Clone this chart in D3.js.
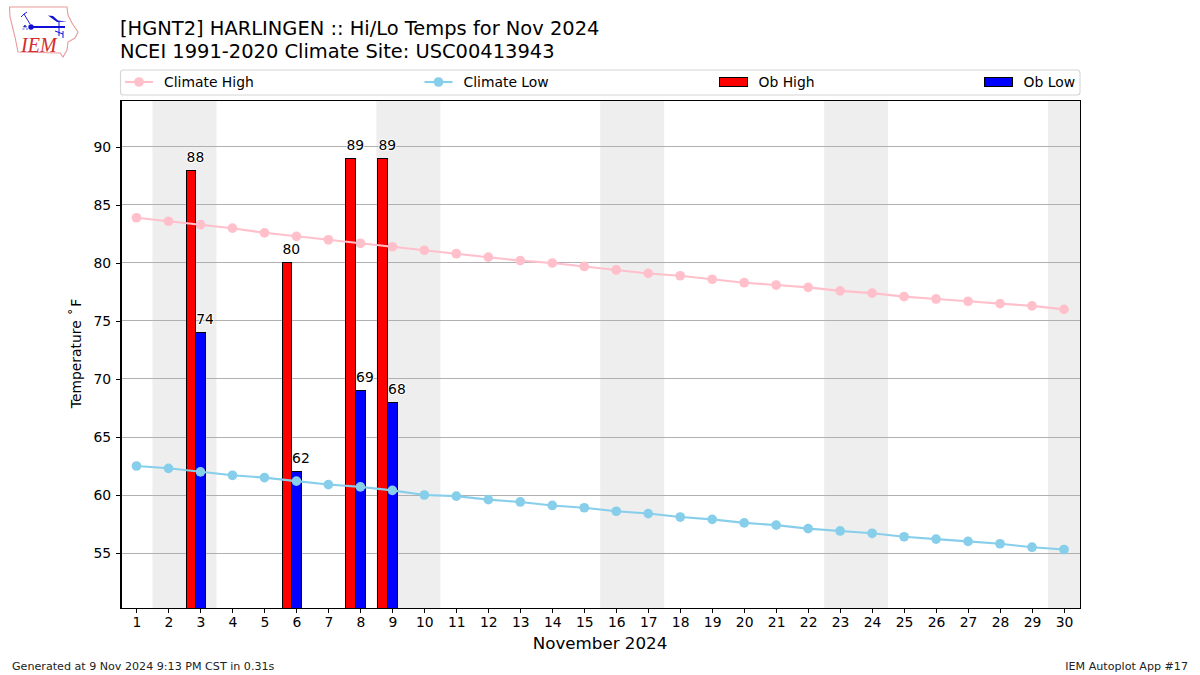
<!DOCTYPE html>
<html lang="en">
<head>
<meta charset="UTF-8">
<title>HGNT2 Hi/Lo Temps</title>
<style>
  html,body{margin:0;background:#fff}
  svg{display:block}
  text{font-family:'DejaVu Sans',sans-serif;fill:#000}
  .tick text{font-size:13.9px}
  .tick line,.domain{shape-rendering:crispEdges}
  .grid line{stroke:#b0b0b0;stroke-width:1;shape-rendering:crispEdges}
  .label{font-size:13.9px}
  .foot{font-size:11.12px;fill:#222}
  .bar{shape-rendering:crispEdges}
</style>
</head>
<body>
<div id="chart"></div>
<script src="https://cdn.jsdelivr.net/npm/d3@7"></script>
<script>
const days=d3.range(1,31);
const climateHigh=[83.9,83.6,83.3,83.0,82.6,82.3,82.0,81.7,81.4,81.1,80.8,80.5,80.2,80.0,79.7,
                   79.4,79.1,78.9,78.6,78.3,78.1,77.9,77.6,77.4,77.1,76.9,76.7,76.5,76.3,76.0];
const climateLow=[62.5,62.3,62.0,61.7,61.5,61.2,60.9,60.7,60.4,60.0,59.9,59.6,59.4,59.1,58.9,
                  58.6,58.4,58.1,57.9,57.6,57.4,57.1,56.9,56.7,56.4,56.2,56.0,55.8,55.5,55.3];
const obDays=[3,6,8,9];
const obHigh=[88,80,89,89];
const obLow=[74,62,69,68];
const weekends=[[2,3],[9,10],[16,17],[23,24],[30,30]];
const yTicks=[55,60,65,70,75,80,85,90];

const W=1200,H=675;
const margin={top:100,right:120,bottom:67,left:120.5};

const svg=d3.select("#chart").append("svg").attr("width",W).attr("height",H);

const x=d3.scaleLinear().domain([0.5,30.5]).range([margin.left,W-margin.right]);
const y=d3.scaleLinear().domain([50.26,94.05]).range([H-margin.bottom,margin.top]);
const barW=x(0.3)-x(0);
const plotTop=margin.top,plotBottom=H-margin.bottom;

/* logo */
const logo=svg.append("g").attr("class","logo");
logo.append("path")
  .attr("d","M9.5 7 L67 7 L68 15 L72 23 L78 32 L75 38 L68 42 L67 50 L63 57 L60 53 L18 52 L15 37 L10 17 Z")
  .attr("fill","none").attr("stroke","#e79a9a").attr("stroke-width",1.1);
logo.append("path").attr("d","M31 27 L65 27").attr("stroke","#1010d8").attr("stroke-width",1.8).attr("fill","none");
logo.append("circle").attr("cx",31).attr("cy",27).attr("r",2.7).attr("fill","#1010d8");
logo.append("path").attr("d","M30 24 L24 14 M24 14 L21 17 M24 14 L27 12").attr("stroke","#2020d8").attr("stroke-width",1).attr("fill","none");
logo.append("path").attr("d","M48 15.5 L53 16 L58 20.5 L67 21.5 L57 22 Z").attr("fill","#1010d8");
logo.append("path").attr("d","M59 22 L59 36 M55 31 L63 34 M63 31 L63 38").attr("stroke","#1010d8").attr("stroke-width",1).attr("fill","none");
logo.append("path").attr("d","M25 25 L23.5 27 L26.5 27 Z M22.5 29 h2 M26 29 h2").attr("stroke","#3030c8").attr("stroke-width",0.8).attr("fill","#3030c8");
logo.append("text").attr("x",21).attr("y",52).text("IEM")
  .style("font-family","'Liberation Serif',serif").style("font-style","italic")
  .style("font-size","20px").style("fill","#d42c2c");

/* titles */
svg.append("text").attr("x",120).attr("y",35).style("font-size","19.45px")
   .text("[HGNT2] HARLINGEN :: Hi/Lo Temps for Nov 2024");
svg.append("text").attr("x",120).attr("y",57.5).style("font-size","19.45px")
   .text("NCEI 1991-2020 Climate Site: USC00413943");

/* legend */
const legend=svg.append("g");
legend.append("rect").attr("x",120.5).attr("y",70).attr("width",959.5).attr("height",25)
  .attr("rx",3).attr("fill","#fff").attr("stroke","#d5d5d5").attr("stroke-width",1.1);
function legendLine(x0,color,label){
  legend.append("line").attr("x1",x0).attr("x2",x0+28).attr("y1",82).attr("y2",82)
    .attr("stroke",color).attr("stroke-width",2.1);
  legend.append("circle").attr("cx",x0+14).attr("cy",82).attr("r",4.85).attr("fill",color);
  legend.append("text").attr("class","label").attr("x",x0+39).attr("y",87).text(label);
}
function legendBar(x0,color,label){
  legend.append("rect").attr("class","bar").attr("x",x0).attr("y",77).attr("width",28).attr("height",9)
    .attr("fill",color).attr("stroke","#000").attr("stroke-width",1);
  legend.append("text").attr("class","label").attr("x",x0+39).attr("y",87).text(label);
}
legendLine(125,"#ffc0cb","Climate High");
legendLine(424.5,"#87ceeb","Climate Low");
legendBar(719.5,"#ff0000","Ob High");
legendBar(984.5,"#0000ff","Ob Low");

/* weekend shading */
svg.append("g").selectAll("rect").data(weekends).join("rect")
  .attr("x",d=>x(d[0]-0.5))
  .attr("width",d=>x(Math.min(d[1]+0.5,30.5))-x(d[0]-0.5))
  .attr("y",plotTop).attr("height",plotBottom-plotTop)
  .attr("fill","#eeeeee");

/* grid */
svg.append("g").attr("class","grid").selectAll("line").data(yTicks).join("line")
  .attr("x1",x.range()[0]).attr("x2",x.range()[1])
  .attr("y1",d=>y(d)).attr("y2",d=>y(d));

/* bars */
const bars=svg.append("g");
bars.selectAll("rect.hi").data(obDays).join("rect").attr("class","hi bar")
  .attr("x",d=>x(d-0.45)).attr("width",barW)
  .attr("y",(d,i)=>y(obHigh[i])).attr("height",(d,i)=>plotBottom-y(obHigh[i]))
  .attr("fill","#ff0000").attr("stroke","#000").attr("stroke-width",1);
bars.selectAll("rect.lo").data(obDays).join("rect").attr("class","lo bar")
  .attr("x",d=>x(d-0.15)).attr("width",barW)
  .attr("y",(d,i)=>y(obLow[i])).attr("height",(d,i)=>plotBottom-y(obLow[i]))
  .attr("fill","#0000ff").attr("stroke","#000").attr("stroke-width",1);

/* climate lines */
function climate(values,color){
  const line=d3.line().x((d,i)=>x(days[i])).y(d=>y(d));
  svg.append("path").attr("d",line(values)).attr("fill","none")
     .attr("stroke",color).attr("stroke-width",2.1);
  svg.append("g").selectAll("circle").data(values).join("circle")
     .attr("cx",(d,i)=>x(days[i])).attr("cy",d=>y(d)).attr("r",4.85).attr("fill",color);
}
climate(climateHigh,"#ffc0cb");
climate(climateLow,"#87ceeb");

/* bar value labels */
function barLabels(values,offset){
  svg.append("g").selectAll("text").data(values).join("text")
     .attr("class","label")
     .attr("x",(d,i)=>x(obDays[i]+offset)+0.5)
     .attr("y",d=>y(d)-8.5)
     .attr("stroke","#fff").attr("stroke-width",2).attr("paint-order","stroke")
     .text(d=>d);
}
barLabels(obHigh,-0.45);
barLabels(obLow,-0.15);

/* axes */
const xAxis=svg.append("g").attr("transform",`translate(0,${plotBottom})`)
  .call(d3.axisBottom(x).tickValues(days).tickFormat(d3.format("d")).tickSize(4.9).tickPadding(4.5).tickSizeOuter(0));
const yAxis=svg.append("g").attr("transform",`translate(${margin.left},0)`)
  .call(d3.axisLeft(y).tickValues(yTicks).tickSize(4.9).tickPadding(4.5).tickSizeOuter(0));
[xAxis,yAxis].forEach(a=>{
  a.selectAll("line").attr("stroke","#000").attr("stroke-width",1);
  a.select("path").attr("stroke","#000").attr("stroke-width",1);
});
svg.append("rect").attr("class","bar").attr("x",margin.left).attr("y",plotTop)
  .attr("width",x.range()[1]-margin.left).attr("height",plotBottom-plotTop)
  .attr("fill","none").attr("stroke","#000").attr("stroke-width",1);

/* axis labels */
svg.append("text").attr("x",600).attr("y",649).attr("text-anchor","middle")
   .style("font-size","16.7px").text("November 2024");
const yLabel=svg.append("text").attr("transform","translate(80.5,353.5) rotate(-90)").attr("text-anchor","middle")
   .style("font-size","13.9px");
yLabel.append("tspan").text("Temperature");
yLabel.append("tspan").attr("dx",5).text("˚");
yLabel.append("tspan").attr("dx",1.5).text("F");

/* footer */
svg.append("text").attr("class","foot").attr("x",12).attr("y",670)
   .text("Generated at 9 Nov 2024 9:13 PM CST in 0.31s");
svg.append("text").attr("class","foot").attr("x",1188).attr("y",670).attr("text-anchor","end")
   .text("IEM Autoplot App #17");
</script>
</body>
</html>
